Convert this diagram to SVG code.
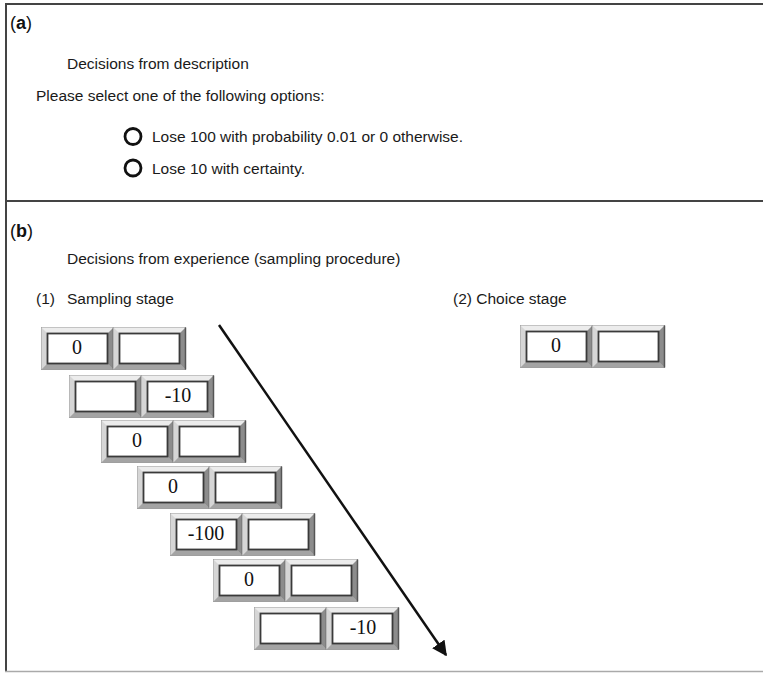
<svg xmlns="http://www.w3.org/2000/svg" width="763" height="673" viewBox="0 0 763 673">
<style>
.t{font-family:"Liberation Sans",Arial,sans-serif;font-size:15.5px;fill:#1a1a1a}
.lab{font-family:"Liberation Sans",Arial,sans-serif;font-size:18px;fill:#111}
.n{font-family:"Liberation Serif","Times New Roman",serif;font-size:20px;fill:#111;text-anchor:middle}
.frame{stroke:#444;stroke-width:2;fill:none}
.radio{fill:none;stroke:#111;stroke-width:2.8}
</style>
<defs>
<linearGradient id="gv" x1="0" y1="0" x2="0" y2="1">
<stop offset="0" stop-color="#f2f2f2"/><stop offset="1" stop-color="#c8c8c8"/>
</linearGradient>
<symbol id="btn" width="73" height="43" viewBox="0 0 73 43" overflow="visible">
<rect x="0.5" y="0.5" width="72" height="42" fill="url(#gv)" stroke="#9a9a9a" stroke-width="1"/>
<polygon points="0.5,0.5 72.5,0.5 66.5,6.5 6.5,6.5" fill="#ececec"/>
<polygon points="0.5,0.5 6.5,6.5 6.5,36.5 0.5,42.5" fill="#d6d6d6"/>
<polygon points="0.5,42.5 6.5,36.5 66.5,36.5 72.5,42.5" fill="#a4a4a4"/>
<polygon points="72.5,0.5 66.5,6.5 66.5,36.5 72.5,42.5" fill="#8c8c8c"/>
<line x1="72.5" y1="0.5" x2="72.5" y2="42.5" stroke="#555" stroke-width="1.5"/>
<rect x="6.5" y="6.5" width="60" height="30" fill="#fff" stroke="#3a3a3a" stroke-width="1.8"/>
</symbol>
<marker id="ah" viewBox="0 0 10 10" refX="9" refY="5" markerWidth="6" markerHeight="6" orient="auto" markerUnits="strokeWidth">
<path d="M0,0 L10,5 L0,10 z" fill="#111"/>
</marker>
</defs>
<rect width="763" height="673" fill="#fff"/>
<g id="frame">
<line class="frame" x1="5" y1="4" x2="763" y2="4"/>
<line class="frame" x1="6" y1="3" x2="6" y2="672"/>
<line class="frame" x1="5" y1="201" x2="763" y2="201"/>
<line x1="5" y1="671.5" x2="763" y2="671.5" stroke="#aaa" stroke-width="1.5"/>
</g>
<g id="panel-a">
<text class="lab" x="10" y="29">(<tspan font-weight="bold">a</tspan>)</text>
<text class="t" x="67" y="69">Decisions from description</text>
<text class="t" x="36" y="101">Please select one of the following options:</text>
<circle class="radio" cx="133" cy="136.5" r="8"/>
<text class="t" x="152" y="142">Lose 100 with probability 0.01 or 0 otherwise.</text>
<circle class="radio" cx="133" cy="168" r="8"/>
<text class="t" x="152" y="173.5">Lose 10 with certainty.</text>
</g>
<g id="panel-b">
<text class="lab" x="10" y="237">(<tspan font-weight="bold">b</tspan>)</text>
<text class="t" x="67" y="264">Decisions from experience (sampling procedure)</text>
<text class="t" x="36" y="304">(1)</text>
<text class="t" x="67" y="304">Sampling stage</text>
<text class="t" x="453" y="304">(2) Choice stage</text>
</g>
<g id="connectors">
<line x1="219" y1="325" x2="446" y2="655" stroke="#111" stroke-width="2.5" marker-end="url(#ah)"/>
</g>
<g id="row1"><use href="#btn" x="41" y="327"/><use href="#btn" x="113" y="327"/><text class="n" x="77" y="353.5">0</text></g>
<g id="row2"><use href="#btn" x="69" y="375"/><use href="#btn" x="141" y="375"/><text class="n" x="178" y="401.5">-10</text></g>
<g id="row3"><use href="#btn" x="101" y="420"/><use href="#btn" x="173" y="420"/><text class="n" x="137" y="446.5">0</text></g>
<g id="row4"><use href="#btn" x="137" y="466"/><use href="#btn" x="209" y="466"/><text class="n" x="173" y="492.5">0</text></g>
<g id="row5"><use href="#btn" x="170" y="513"/><use href="#btn" x="242" y="513"/><text class="n" x="206" y="539.5">-100</text></g>
<g id="row6"><use href="#btn" x="213" y="559"/><use href="#btn" x="285" y="559"/><text class="n" x="249" y="585.5">0</text></g>
<g id="row7"><use href="#btn" x="254" y="607"/><use href="#btn" x="326" y="607"/><text class="n" x="363" y="633.5">-10</text></g>
<g id="choice"><use href="#btn" x="520" y="325"/><use href="#btn" x="592" y="325"/><text class="n" x="556" y="351.5">0</text></g>
</svg>
